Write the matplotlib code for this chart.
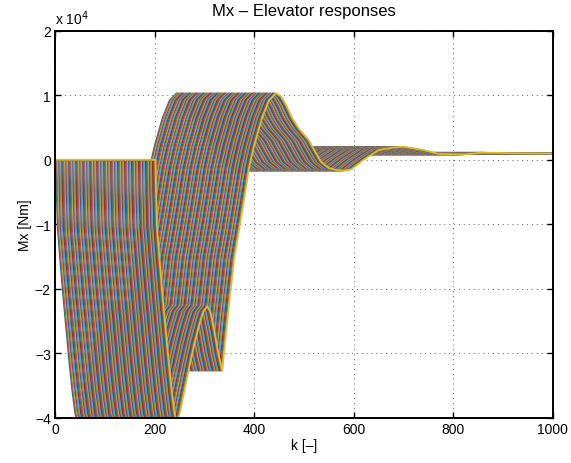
import matplotlib
matplotlib.use('Agg')
import matplotlib.pyplot as plt
from matplotlib.colors import to_rgb

plt.rcParams['font.family'] = ['Liberation Sans', 'DejaVu Sans']
plt.rcParams['font.size'] = 10

# Mx response to one elevator move, read at steps after the move starts
resp_k = [0, 2, 3, 5, 10, 16, 22, 28, 34, 40, 44, 50, 58, 70, 80, 90, 98, 106,
          112, 120, 128, 136, 140, 148, 160, 170, 180, 190, 200, 216, 230, 244,
          254, 264, 276, 290, 310, 322, 334, 350, 365, 380, 395, 410, 420, 450,
          480, 500, 540, 570, 620, 660, 720, 800, 1000]
resp_mx = [0, 0, -5000, -10500, -15500, -21000, -26000, -31000, -35500, -39200,
           -40500, -39500, -36500, -32000, -28500, -25500, -23500, -22700,
           -23500, -26500, -30000, -32700, -29500, -23500, -15200, -10700,
           -6000, -1200, 2200, 6500, 9200, 10300, 9800, 8500, 6500, 4800, 3000,
           1300, -300, -1300, -1600, -1700, -1500, -600, 0, 1500, 1900, 2000,
           1500, 900, 800, 1100, 1000, 950, 950]

# step at which each move starts
delays = list(range(0, 201, 2))

# matlab line colour order, toned down a little towards grey
base = ['#0072BD', '#D95319', '#EDB120', '#7E2F8E', '#77AC30', '#4DBEEE', '#A2142F']
colors = [tuple(0.72 * c + 0.28 * 0.42 for c in to_rgb(h)) for h in base]

fig = plt.figure(figsize=(5.71, 4.64), dpi=100)
ax = fig.add_axes([0.0963, 0.097, 0.872, 0.835])

for i, d in enumerate(delays):
    x = [0] + [d + k for k in resp_k]
    y = [0] + resp_mx
    if i == len(delays) - 1:
        ax.plot(x, y, color='#DDBF1E', lw=1.3)
    else:
        ax.plot(x, y, color=colors[i % len(colors)], lw=1.0)

ax.set_xlim(0, 1000)
ax.set_ylim(-40000, 20000)
ax.set_xticks([0, 200, 400, 600, 800, 1000])
yt = [-40000, -30000, -20000, -10000, 0, 10000, 20000]
ax.set_yticks(yt)
ax.set_yticklabels(['\u2212' + str(abs(v) // 10000) if v < 0 else str(v // 10000) for v in yt])
ax.text(0, 1.008, r'x 10$^4$', transform=ax.transAxes, ha='left', va='bottom')

ax.grid(True, color='0.35', linestyle=(0, (1, 4)), lw=0.7)
ax.set_axisbelow(True)
ax.tick_params(direction='in', length=4, width=1, top=True, right=True, pad=3)
for s in ax.spines.values():
    s.set_linewidth(1.4)

ax.set_title('Mx \u2013 Elevator responses', pad=11)
ax.set_xlabel('k [\u2013]', labelpad=1)
ax.set_ylabel('Mx [Nm]', labelpad=2)

fig.savefig('out.png', dpi=100)
